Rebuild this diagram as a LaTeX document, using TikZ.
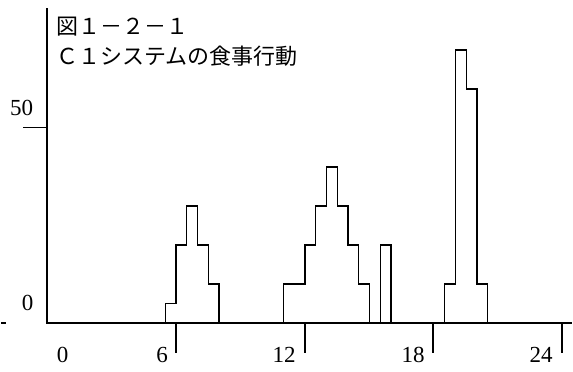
\documentclass[tikz,border=0pt]{standalone}
\usepackage{fontspec}
\setmainfont{Liberation Serif}
\newfontfamily\cjk{Noto Sans CJK JP}
\begin{document}
\begin{tikzpicture}[x=1pt,y=-1pt,
  axis/.style={line width=1.3pt},
  hist/.style={line width=1.3pt, line join=miter},
  num/.style={font=\fontsize{23}{23}\selectfont, inner sep=0pt},
  ttl/.style={font=\cjk\fontsize{22}{22}\selectfont, inner sep=0pt, anchor=west}]
\useasboundingbox (0,0) rectangle (573,372);
% axes
\draw[axis] (47,8) -- (47,323) -- (572,323);
\draw[axis] (23,127.5) -- (47,127.5);
\draw[axis] (1,323) -- (6,323);
% x ticks
\foreach \t in {176,305,433,562} \draw[axis] (\t,323) -- (\t,353);
% labels
\node[num] (y50) at (21.5,108) {50};
\node[num] (y0) at (27.5,303) {0};
\node[num] (x0) at (62.5,355) {0};
\node[num] (x6) at (162,355) {6};
\node[num] (x12) at (284,355) {12};
\node[num] (x18) at (413,355) {18};
\node[num] (x24) at (541,355) {24};
% title
\node[ttl] (t1) at (56,27) {図１－２－１};
\node[ttl] (t2) at (56,56) {Ｃ１システムの食事行動};
% histograms
\begin{scope}[shift={(47pt,-323pt)}, x=21.5pt, y=3.9pt]
\draw[hist] (5.5,0) -- (5.5,5) -- (6,5) -- (6,20) -- (6.5,20) -- (6.5,30) -- (7,30) -- (7,20) -- (7.5,20) -- (7.5,10) -- (8,10) -- (8,0);
\draw[hist] (11,0) -- (11,10) -- (12,10) -- (12,20) -- (12.5,20) -- (12.5,30) -- (13,30) -- (13,40) -- (13.5,40) -- (13.5,30) -- (14,30) -- (14,20) -- (14.5,20) -- (14.5,10) -- (15,10) -- (15,0);
\draw[hist] (15.5,0) -- (15.5,20) -- (16,20) -- (16,0);
\draw[hist] (18.5,0) -- (18.5,10) -- (19,10) -- (19,70) -- (19.5,70) -- (19.5,60) -- (20,60) -- (20,10) -- (20.5,10) -- (20.5,0);
\end{scope}
\end{tikzpicture}
\end{document}
